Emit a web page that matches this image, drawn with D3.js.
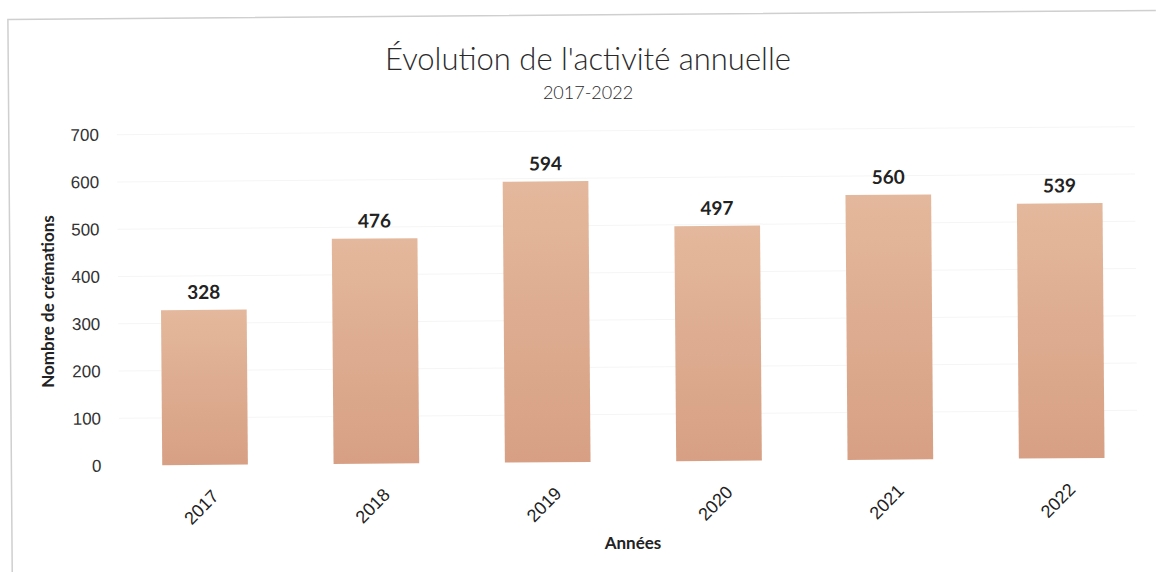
<!DOCTYPE html>
<html>
<head>
<meta charset="utf-8">
<script src="https://cdn.jsdelivr.net/npm/d3@7"></script>
<style>
  body { margin: 0; background: #fff; }
  svg { display: block; font-family: Lato, 'Open Sans', sans-serif; }
</style>
</head>
<body>
<div id="chart"></div>
<script>
  const years = ['2017', '2018', '2019', '2020', '2021', '2022']
  const cremations = [328, 476, 594, 497, 560, 539]
  const yTicks = [0, 100, 200, 300, 400, 500, 600, 700]

  const size = { width: 1158, height: 572 }
  const margin = { top: 131, right: 12, bottom: 110, left: 118 }
  const chartWidth = size.width - margin.left - margin.right
  const chartHeight = size.height - margin.top - margin.bottom

  const svg = d3.select('#chart').append('svg')
    .attr('width', size.width)
    .attr('height', size.height)

  const defs = svg.append('defs')
  const grad = defs.append('linearGradient')
    .attr('id', 'barFill')
    .attr('x1', 0).attr('y1', 0).attr('x2', 0).attr('y2', 1)
  grad.append('stop').attr('offset', '0%').attr('stop-color', '#e4b89c')
  grad.append('stop').attr('offset', '100%').attr('stop-color', '#d7a084')

  // scanned page is slightly tilted
  const page = svg.append('g').attr('transform', 'rotate(-0.45, 579, 286)')

  // frame
  page.append('path')
    .attr('d', 'M10,572 L10,15 L1158,15')
    .attr('fill', 'none')
    .attr('stroke', '#cfcfcf')
    .attr('stroke-width', 1.5)

  const xScale = d3.scaleBand()
    .domain(years)
    .range([0, chartWidth])
    .paddingInner(0.5)
    .paddingOuter(0.25)

  const yScale = d3.scaleLinear()
    .domain([0, 700])
    .range([chartHeight, 0])

  const chartArea = page.append('g')
    .attr('transform', 'translate(' + margin.left + ',' + margin.top + ')')

  // faint gridlines
  chartArea.append('g')
    .selectAll('line')
    .data(yTicks.slice(1))
    .enter().append('line')
    .attr('x1', 0)
    .attr('x2', chartWidth - 10)
    .attr('y1', d => yScale(d))
    .attr('y2', d => yScale(d))
    .attr('stroke', '#f5f5f5')
    .attr('stroke-width', 1)

  const yAxis = chartArea.append('g')
    .call(d3.axisLeft(yScale).tickValues(yTicks).tickSize(0).tickPadding(18))
  yAxis.select('.domain').remove()
  yAxis.selectAll('text')
    .style('font-size', '17px')
    .style('font-weight', 300)
    .style('fill', '#333')

  chartArea.selectAll('rect.bar')
    .data(cremations)
    .enter().append('rect')
    .attr('class', 'bar')
    .attr('x', (d, i) => xScale(years[i]))
    .attr('y', d => yScale(d))
    .attr('width', xScale.bandwidth())
    .attr('height', d => chartHeight - yScale(d))
    .attr('fill', 'url(#barFill)')

  chartArea.selectAll('text.value')
    .data(cremations)
    .enter().append('text')
    .attr('class', 'value')
    .attr('x', (d, i) => xScale(years[i]) + xScale.bandwidth() / 2)
    .attr('y', d => yScale(d) - 11)
    .attr('text-anchor', 'middle')
    .style('font-size', '19px')
    .style('font-weight', 700)
    .style('fill', '#222')
    .text(d => d)

  const xAxis = chartArea.append('g')
    .attr('transform', 'translate(0,' + chartHeight + ')')
    .call(d3.axisBottom(xScale).tickSize(0))
  xAxis.select('.domain').remove()
  xAxis.selectAll('text')
    .style('text-anchor', 'end')
    .style('font-size', '18px')
    .style('font-weight', 300)
    .style('fill', '#222')
    .attr('x', 0)
    .attr('y', 0)
    .attr('dy', '0.35em')
    .attr('transform', 'translate(10,28) rotate(-45)')

  svg.append('text')
    .attr('x', 588)
    .attr('y', 70)
    .attr('text-anchor', 'middle')
    .style('font-size', '31px')
    .style('font-weight', 300)
    .style('fill', '#2a2a2a')
    .text("Évolution de l'activité annuelle")

  svg.append('text')
    .attr('x', 588)
    .attr('y', 99)
    .attr('text-anchor', 'middle')
    .style('font-size', '18px')
    .style('font-weight', 300)
    .style('fill', '#2a2a2a')
    .text('2017-2022')

  svg.append('text')
    .attr('transform', 'translate(54,' + (margin.top + chartHeight / 2 + 5) + ') rotate(-90)')
    .attr('text-anchor', 'middle')
    .style('font-size', '17px')
    .style('font-weight', 700)
    .style('fill', '#222')
    .text('Nombre de crémations')

  svg.append('text')
    .attr('x', 633)
    .attr('y', 549)
    .attr('text-anchor', 'middle')
    .style('font-size', '17px')
    .style('font-weight', 700)
    .style('fill', '#222')
    .text('Années')
</script>
</body>
</html>
